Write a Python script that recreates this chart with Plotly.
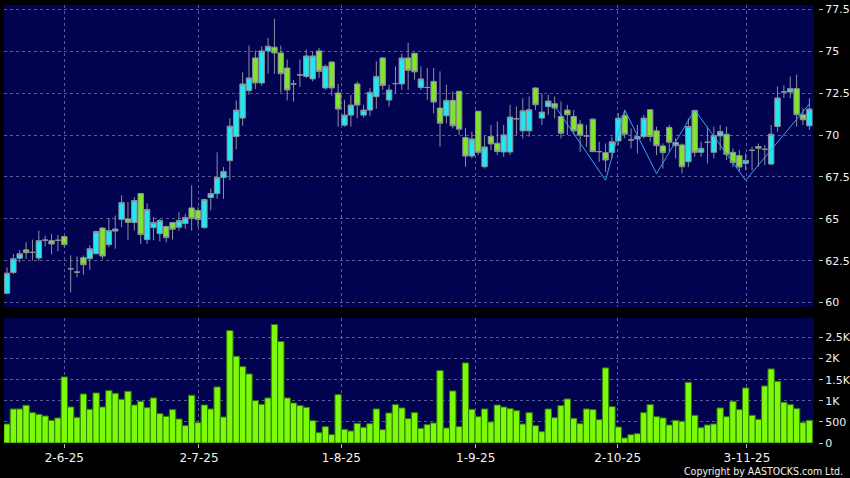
import plotly.graph_objects as go

# ---- data ----
open_ = [60.56, 61.8, 62.65, 63.15, 63.0, 62.66, 63.73, 63.7, 63.72, 63.94,
         62.02, 61.82, 62.68, 62.62, 62.92, 64.45, 63.46, 64.27, 64.97, 64.99,
         64.78, 66.51, 63.76, 64.48, 64.12, 64.54, 64.78, 64.5, 64.72, 65.65,
         65.5, 64.48, 66.27, 66.51, 67.47, 68.47, 69.91, 71.01, 72.65, 74.6,
         73.11, 75.02, 75.24, 74.9, 74.0, 73.05, 73.59, 73.5, 73.35, 75.02,
         72.81, 74.36, 72.51, 70.59, 71.19, 73.05, 71.19, 71.49, 72.29, 74.6,
         72.09, 73.07, 73.05, 74.6, 74.88, 72.84, 72.84, 73.2, 71.61, 71.15,
         72.07, 72.61, 69.85, 68.75, 71.42, 68.11, 69.91, 69.51, 68.99, 68.99,
         70.97, 70.25, 70.25, 72.81, 71.01, 71.7, 71.87, 71.11, 71.49, 71.11,
         70.65, 69.95, 70.95, 69.01, 68.95, 68.97, 69.65, 71.17, 69.71, 69.77,
         69.91, 71.51, 70.25, 69.35, 70.45, 69.55, 69.41, 68.41, 71.47, 68.97,
         69.57, 68.97, 69.95, 70.05, 68.97, 68.77, 68.31, 69.09, 69.31, 69.15,
         68.27, 70.51, 72.57, 72.57, 72.77, 71.21, 70.55]
high = [62.1, 62.9, 63.15, 63.6, 63.76, 64.3, 64.0, 64.1, 64.04, 63.95,
        62.82, 62.76, 62.82, 63.42, 64.3, 64.5, 65.05, 65.2, 66.41, 66.0,
        66.3, 66.55, 65.92, 65.11, 65.0, 64.6, 64.8, 65.4, 65.3, 67.0,
        65.7, 66.2, 66.81, 68.97, 68.1, 71.0, 72.07, 73.74, 75.34, 75.04,
        75.3, 75.8, 76.94, 75.34, 74.5, 73.3, 74.5, 75.1, 75.0, 75.2,
        74.2, 74.4, 73.05, 72.1, 72.4, 73.2, 71.8, 72.8, 74.4, 74.65,
        73.0, 74.1, 74.85, 75.5, 74.9, 74.1, 74.0, 74.0, 73.8, 73.0,
        72.6, 72.65, 70.41, 70.2, 71.45, 70.0, 70.6, 70.8, 70.6, 71.8,
        71.7, 72.2, 72.3, 72.85, 72.5, 72.4, 72.3, 72.0, 71.8, 71.5,
        70.9, 70.6, 71.0, 69.6, 69.5, 69.9, 71.3, 71.5, 70.4, 70.6,
        71.2, 71.55, 70.5, 69.5, 70.6, 69.8, 69.5, 71.0, 71.5, 69.6,
        70.5, 70.5, 70.6, 70.5, 69.2, 69.1, 68.9, 69.3, 69.5, 69.4,
        70.6, 72.9, 72.97, 73.5, 73.6, 71.6, 72.2]
low = [60.5, 61.7, 62.4, 62.6, 62.52, 62.5, 63.36, 62.88, 63.07, 63.3,
       60.62, 61.52, 61.66, 61.96, 62.9, 62.6, 63.3, 63.22, 64.51, 63.72,
       64.3, 63.5, 63.5, 63.72, 63.65, 63.6, 63.76, 64.3, 64.4, 64.3,
       64.5, 64.4, 65.51, 66.2, 66.2, 67.3, 69.15, 70.55, 72.4, 72.75,
       72.95, 73.66, 73.66, 72.54, 72.07, 72.0, 72.87, 73.4, 73.2, 73.4,
       72.7, 72.36, 70.5, 70.5, 70.5, 71.0, 71.05, 71.15, 71.57, 72.7,
       71.7, 72.5, 72.7, 72.7, 73.3, 72.7, 72.1, 71.3, 69.3, 70.7,
       70.4, 70.0, 68.11, 68.6, 68.8, 68.0, 69.1, 68.8, 68.7, 68.8,
       70.0, 69.8, 69.9, 71.5, 70.6, 71.2, 71.0, 69.8, 70.0, 70.0,
       69.0, 69.3, 69.0, 68.4, 67.8, 68.6, 69.4, 69.8, 69.2, 68.9,
       69.8, 69.6, 68.8, 68.0, 69.0, 68.6, 67.7, 68.1, 68.7, 68.7,
       68.3, 68.6, 69.1, 68.5, 68.1, 67.8, 67.9, 67.9, 68.1, 68.2,
       68.2, 70.2, 72.21, 72.2, 70.5, 70.6, 70.3]
close = [61.76, 62.62, 62.92, 62.98, 63.0, 63.7, 63.73, 63.5, 63.72, 63.46,
         62.02, 61.82, 62.26, 63.22, 64.24, 62.78, 64.3, 64.39, 65.97, 64.78,
         66.09, 64.06, 65.56, 64.78, 64.9, 63.88, 64.38, 64.9, 65.08, 65.02,
         64.96, 66.15, 66.51, 67.47, 67.83, 70.53, 71.49, 73.05, 73.41, 73.11,
         75.02, 75.3, 74.9, 73.66, 72.69, 73.05, 73.59, 74.72, 74.72, 73.8,
         74.1, 72.81, 71.55, 71.19, 71.79, 71.79, 71.49, 72.55, 73.5, 72.96,
         72.69, 73.07, 74.6, 73.86, 73.77, 73.35, 72.84, 71.97, 70.71, 72.07,
         70.55, 70.35, 68.75, 69.77, 68.97, 69.29, 69.47, 69.01, 70.01, 71.07,
         70.97, 71.45, 71.51, 71.81, 71.37, 72.03, 71.61, 70.11, 71.21, 70.25,
         69.99, 69.95, 69.01, 69.01, 68.51, 69.6, 71.01, 70.05, 69.71, 69.91,
         71.01, 69.91, 69.37, 68.95, 69.57, 69.37, 68.11, 70.51, 68.97, 69.21,
         69.57, 69.97, 70.21, 68.85, 68.35, 68.09, 68.49, 69.09, 69.21, 69.15,
         70.05, 72.21, 72.57, 72.77, 71.21, 70.91, 71.55]
volume = [450, 806, 806, 893, 719, 679, 640, 537, 593, 1564,
          853, 608, 1161, 798, 1185, 853, 1240, 1177, 1035, 1225,
          900, 988, 837, 1067, 695, 632, 790, 569, 411, 1130,
          482, 900, 806, 1327, 616, 2662, 2054, 1809, 1635, 1003,
          916, 1067, 2805, 2402, 1067, 948, 885, 845, 529, 245,
          387, 198, 1146, 324, 284, 466, 371, 458, 806, 316,
          711, 909, 830, 577, 719, 348, 435, 474, 1714, 356,
          1232, 387, 1896, 798, 624, 806, 498, 900, 853, 814,
          766, 450, 719, 411, 269, 806, 600, 885, 1043, 585,
          458, 806, 790, 553, 1778, 861, 379, 119, 198, 221,
          719, 909, 624, 593, 427, 537, 514, 1438, 656, 363,
          427, 450, 830, 624, 988, 790, 1304, 656, 561, 1351,
          1754, 1462, 964, 909, 814, 482, 537]
zigzag_idx = [86, 94, 97, 102, 108, 116, 126]
zigzag_val = [71.75, 67.3, 71.5, 67.7, 71.5, 67.3, 71.85]
date_tick_pos = [9, 30.15, 52.5, 73.6, 95.9, 116.2]
date_tick_text = ["2-6-25", "2-7-25", "1-8-25", "1-9-25", "2-10-25", "3-11-25"]
price_ticks = [60, 62.5, 65, 67.5, 70, 72.5, 75, 77.5]
price_tick_text = ["60", "62.5", "65", "67.5", "70", "72.5", "75", "77.5"]
vol_ticks = [0, 500, 1000, 1500, 2000, 2500]
vol_tick_text = ["0", "500", "1K", "1.5K", "2K", "2.5K"]

x = list(range(len(open_)))

NAVY = "#020350"
GRID = "#5a5a94"
TXT = "#f2f2f2"
FONT = "DejaVu Sans"

fig = go.Figure()
fig.add_trace(go.Candlestick(
    x=x, open=open_, high=high, low=low, close=close,
    increasing=dict(fillcolor="#20e8f2", line=dict(color="#8d909c", width=1)),
    decreasing=dict(fillcolor="#80e32c", line=dict(color="#8d909c", width=1)),
    whiskerwidth=0, xaxis="x", yaxis="y", hoverinfo="skip", showlegend=False))
fig.add_trace(go.Scatter(
    x=zigzag_idx, y=zigzag_val, mode="lines",
    line=dict(color="#3d9fe6", width=1), xaxis="x", yaxis="y",
    hoverinfo="skip", showlegend=False))
fig.add_trace(go.Bar(
    x=x, y=volume, marker=dict(color="#7dfa0a", line=dict(color="#2f7a06", width=1)),
    xaxis="x2", yaxis="y2", hoverinfo="skip", showlegend=False))

xrange = [-0.47, 126.73]
xdom = [0, 810 / 814]
grid_common = dict(showgrid=True, gridcolor=GRID, gridwidth=1, griddash="3px,3px",
                   zeroline=False, automargin=False)

fig.update_layout(
    width=850, height=478,
    margin=dict(l=4, r=32, t=5, b=35, autoexpand=False),
    paper_bgcolor="#000000", plot_bgcolor=NAVY,
    boxgap=0.15, boxgroupgap=0,
    bargap=0,
    hovermode=False,
    showlegend=False,
    font=dict(family=FONT, color=TXT),
    xaxis=dict(domain=xdom, range=xrange, anchor="y", tickvals=date_tick_pos,
               showticklabels=False, ticks="", rangeslider=dict(visible=False),
               **grid_common),
    xaxis2=dict(domain=xdom, range=xrange, anchor="y2", matches="x",
                tickvals=date_tick_pos, ticktext=date_tick_text,
                ticks="outside", ticklen=4, tickcolor="#bbbbbb",
                tickfont=dict(size=12, color=TXT, family=FONT), **grid_common),
    yaxis=dict(domain=[(443 - 307) / 438, 1], range=[59.74, 77.76], side="right",
               anchor="free", position=1.0, tickvals=price_ticks, ticktext=price_tick_text,
               ticks="outside", ticklen=4, tickcolor="#bbbbbb",
               tickfont=dict(size=11, color=TXT, family=FONT), **grid_common),
    yaxis2=dict(domain=[0, (443 - 318) / 438], range=[0, 2960], side="right",
                anchor="free", position=1.0, tickvals=vol_ticks, ticktext=vol_tick_text,
                ticks="outside", ticklen=4, tickcolor="#bbbbbb",
                tickfont=dict(size=11, color=TXT, family=FONT), **grid_common),
    annotations=[dict(text="Copyright by AASTOCKS.com Ltd.", xref="paper", yref="paper",
                      x=(845 - 4) / 814, y=(443 - 471.5) / 438, xanchor="right",
                      yanchor="middle", showarrow=False,
                      font=dict(size=10.5, color=TXT, family="DejaVu Sans Condensed"))],
)

fig.write_html("out.html",
               config={"displayModeBar": False, "staticPlot": True},
               post_script="document.body.style.margin='0';document.body.style.padding='0';"
                           "document.body.style.background='#000';")
